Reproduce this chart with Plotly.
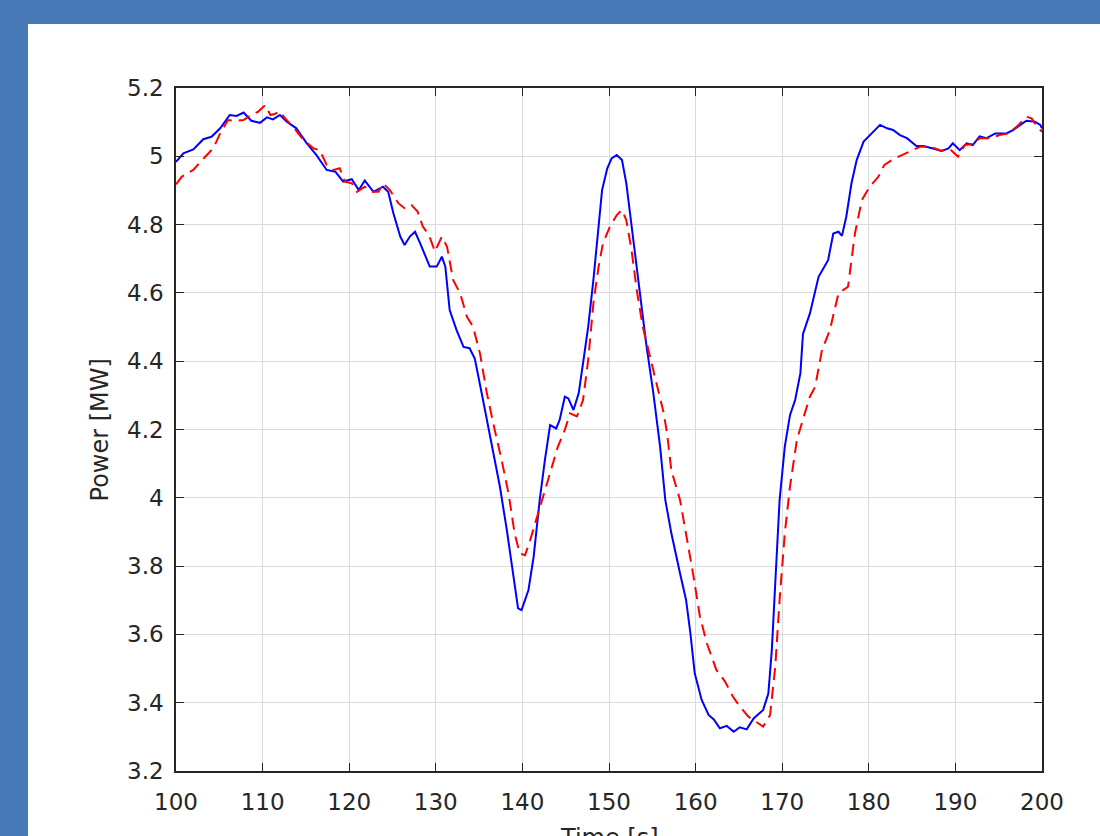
import plotly.graph_objects as go

# ---- data ----
t_meas = [100, 100.85, 102, 103.15, 104.1, 105.1, 106.2, 107.0, 107.8, 108.7, 109.7, 110.5, 111.2, 112.0,
          112.8, 113.9, 115.1, 116.2, 117.4, 118.4, 119.3, 120.3, 121.1, 121.8, 122.8, 123.9, 124.5, 125.1,
          125.9, 126.4, 127.0, 127.6, 128.2, 129.3, 130.1, 130.7, 131.1, 131.6, 132.4, 133.2, 133.9, 134.5,
          135.3, 135.9, 136.8, 137.4, 138.2, 138.9, 139.5, 139.9, 140.7, 141.3, 142.0, 142.6, 143.2, 143.9,
          144.3, 144.9, 145.3, 145.9, 146.5, 147.0, 147.6, 148.2, 148.8, 149.2, 149.8, 150.3, 150.9, 151.5,
          152.0, 152.8, 153.6, 154.3, 155.1, 155.9, 156.5, 157.2, 158.2, 158.9, 159.4, 159.9, 160.7, 161.5,
          162.1, 162.8, 163.6, 164.4, 165.1, 165.9, 166.7, 167.8, 168.4, 168.8, 169.2, 169.7, 170.3, 170.9,
          171.5, 172.1, 172.4, 173.2, 174.2, 175.3, 175.9, 176.5, 176.9, 177.4, 178.0, 178.6, 179.4, 180.5,
          181.3, 182.1, 182.8, 183.6, 184.4, 185.5, 186.3, 187.4, 188.4, 189.2, 189.7, 190.5, 191.3, 192.0,
          192.8, 193.6, 194.6, 195.9, 196.7, 197.5, 198.2, 199.2, 199.8, 200]
p_meas = [4.984, 5.009, 5.02, 5.05, 5.057, 5.082, 5.121, 5.118, 5.128, 5.104, 5.098, 5.114, 5.108, 5.121,
          5.101, 5.082, 5.038, 5.004, 4.96, 4.955, 4.926, 4.933, 4.901, 4.929, 4.896, 4.911, 4.896, 4.833,
          4.765, 4.74, 4.765, 4.779, 4.745, 4.677, 4.677, 4.706, 4.677, 4.55, 4.491, 4.442, 4.438, 4.408,
          4.306, 4.228, 4.111, 4.033, 3.906, 3.779, 3.676, 3.671, 3.73, 3.828, 3.994, 4.111, 4.213, 4.203,
          4.228, 4.296, 4.291, 4.257, 4.306, 4.394, 4.501, 4.638, 4.804, 4.901, 4.965, 4.994, 5.004, 4.989,
          4.921, 4.755, 4.599, 4.45, 4.31, 4.15, 3.994, 3.896, 3.779, 3.701, 3.603, 3.486, 3.408, 3.364,
          3.351, 3.325, 3.332, 3.315, 3.328, 3.322, 3.354, 3.379, 3.427, 3.554, 3.75, 3.994, 4.15, 4.242,
          4.287, 4.365, 4.48, 4.54, 4.647, 4.696, 4.774, 4.779, 4.767, 4.823, 4.921, 4.989, 5.043, 5.072,
          5.092, 5.082, 5.077, 5.062, 5.053, 5.03, 5.03, 5.023, 5.016, 5.023, 5.038, 5.018, 5.038, 5.033,
          5.058, 5.053, 5.067, 5.067, 5.077, 5.092, 5.104, 5.101, 5.092, 5.082]

t_model = [100, 100.65, 102.0, 103.0, 104.3, 105.1, 106.0, 107.0, 107.8, 108.7, 109.5, 110.3, 110.9, 111.4,
           112.0, 112.6, 113.5, 114.7, 115.9, 116.6, 117.4, 118.2, 118.9, 119.5, 120.3, 120.9, 121.8, 122.6,
           123.4, 123.9, 124.7, 125.7, 126.4, 127.2, 127.9, 128.5, 129.2, 129.9, 130.7, 131.3, 132.0, 132.8,
           133.6, 134.3, 135.1, 135.9, 136.8, 137.6, 138.4, 139.1, 139.7, 140.3, 140.9, 141.8, 142.8, 143.6,
           144.1, 144.9, 145.5, 146.3, 147.0, 147.6, 148.2, 148.8, 149.3, 150.1, 150.9, 151.5, 152.0, 152.6,
           153.2, 153.9, 154.7, 155.5, 156.3, 156.7, 157.2, 158.2, 158.9, 159.7, 160.5, 161.3, 162.4, 163.4,
           164.3, 165.1, 166.1, 167.0, 167.8, 168.6, 169.2, 169.7, 170.3, 170.9, 171.7, 172.4, 173.2, 173.8,
           174.6, 175.5, 176.5, 177.6, 178.4, 179.2, 180.1, 181.1, 181.8, 183.0, 183.9, 184.9, 185.9, 187.1,
           188.4, 189.3, 190.3, 191.1, 192.0, 192.8, 194.0, 195.1, 196.1, 197.1, 198.2, 198.8, 199.4, 200]
p_model = [4.918, 4.94, 4.96, 4.989, 5.023, 5.067, 5.106, 5.104, 5.106, 5.121, 5.131, 5.15, 5.121, 5.124,
           5.131, 5.111, 5.087, 5.048, 5.023, 5.018, 4.975, 4.96, 4.965, 4.926, 4.921, 4.896, 4.911, 4.896,
           4.896, 4.921, 4.901, 4.862, 4.848, 4.857, 4.838, 4.794, 4.77, 4.721, 4.765, 4.735, 4.638, 4.599,
           4.53, 4.501, 4.423, 4.306, 4.199, 4.111, 4.013, 3.896, 3.837, 3.832, 3.876, 3.955, 4.042, 4.111,
           4.15, 4.199, 4.247, 4.238, 4.286, 4.404, 4.57, 4.677, 4.745, 4.794, 4.828, 4.843, 4.813, 4.726,
           4.609, 4.501, 4.42, 4.34, 4.25, 4.19, 4.08, 3.994, 3.896, 3.779, 3.652, 3.574, 3.496, 3.462,
           3.418, 3.389, 3.359, 3.345, 3.33, 3.364, 3.506, 3.701, 3.896, 4.033, 4.17, 4.23, 4.296, 4.325,
           4.433, 4.491, 4.599, 4.618, 4.774, 4.872, 4.911, 4.94, 4.975, 4.994, 5.004, 5.016, 5.028, 5.028,
           5.016, 5.023, 4.999, 5.033, 5.036, 5.053, 5.053, 5.062, 5.067, 5.087, 5.116, 5.111, 5.087, 5.072]

x_ticks = [100, 110, 120, 130, 140, 150, 160, 170, 180, 190, 200]
y_ticks = [3.2, 3.4, 3.6, 3.8, 4.0, 4.2, 4.4, 4.6, 4.8, 5.0, 5.2]
y_tick_text = ["3.2", "3.4", "3.6", "3.8", "4", "4.2", "4.4", "4.6", "4.8", "5", "5.2"]
x_title = "Time [s]"
y_title = "Power [MW]"

# ---- figure ----
FONT = "DejaVu Sans, Liberation Sans, Arial, sans-serif"
AX = "#262626"
GRID = "#dadada"

fig = go.Figure()
fig.add_trace(go.Scatter(x=t_meas, y=p_meas, mode="lines",
                         line=dict(color="#0000ff", width=2), showlegend=False))
fig.add_trace(go.Scatter(x=t_model, y=p_model, mode="lines",
                         line=dict(color="#ff0000", width=2, dash="12px,7px"), showlegend=False))

fig.update_layout(
    width=1100, height=836,
    margin=dict(l=176, r=58, t=88, b=65, pad=0),
    paper_bgcolor="#4679b6",
    plot_bgcolor="white",
    font=dict(family=FONT, size=23, color=AX),
    shapes=[dict(type="rect", xref="paper", yref="paper",
                 x0=-0.1709, x1=1.2, y0=-0.2, y1=1.0937,
                 fillcolor="white", line=dict(width=0), layer="below")],
    annotations=[
        dict(text=x_title, xref="paper", yref="paper", x=0.5, y=-0.075,
             xanchor="center", yanchor="top", showarrow=False,
             font=dict(family=FONT, size=24, color=AX)),
        dict(text=y_title, xref="paper", yref="paper", x=-0.0878, y=0.5,
             xanchor="center", yanchor="middle", textangle=-90, showarrow=False,
             font=dict(family=FONT, size=24, color=AX)),
    ],
)
fig.update_xaxes(range=[100, 200], tickvals=x_ticks, ticktext=[str(v) for v in x_ticks],
                 showgrid=True, gridcolor=GRID, gridwidth=1,
                 showline=True, linecolor=AX, linewidth=1.5, mirror="ticks",
                 ticks="inside", ticklen=8, tickcolor=AX, tickwidth=1.3,
                 ticklabelstandoff=10,
                 zeroline=False, fixedrange=True)
fig.update_yaxes(range=[3.2, 5.2], tickvals=y_ticks, ticktext=y_tick_text,
                 showgrid=True, gridcolor=GRID, gridwidth=1,
                 showline=True, linecolor=AX, linewidth=1.5, mirror="ticks",
                 ticks="inside", ticklen=8, tickcolor=AX, tickwidth=1.3,
                 ticklabelstandoff=6,
                 zeroline=False, fixedrange=True)

fig.write_html("out.html", config={"displayModeBar": False},
               post_script="document.body.style.margin='0';document.body.style.overflow='hidden';")
